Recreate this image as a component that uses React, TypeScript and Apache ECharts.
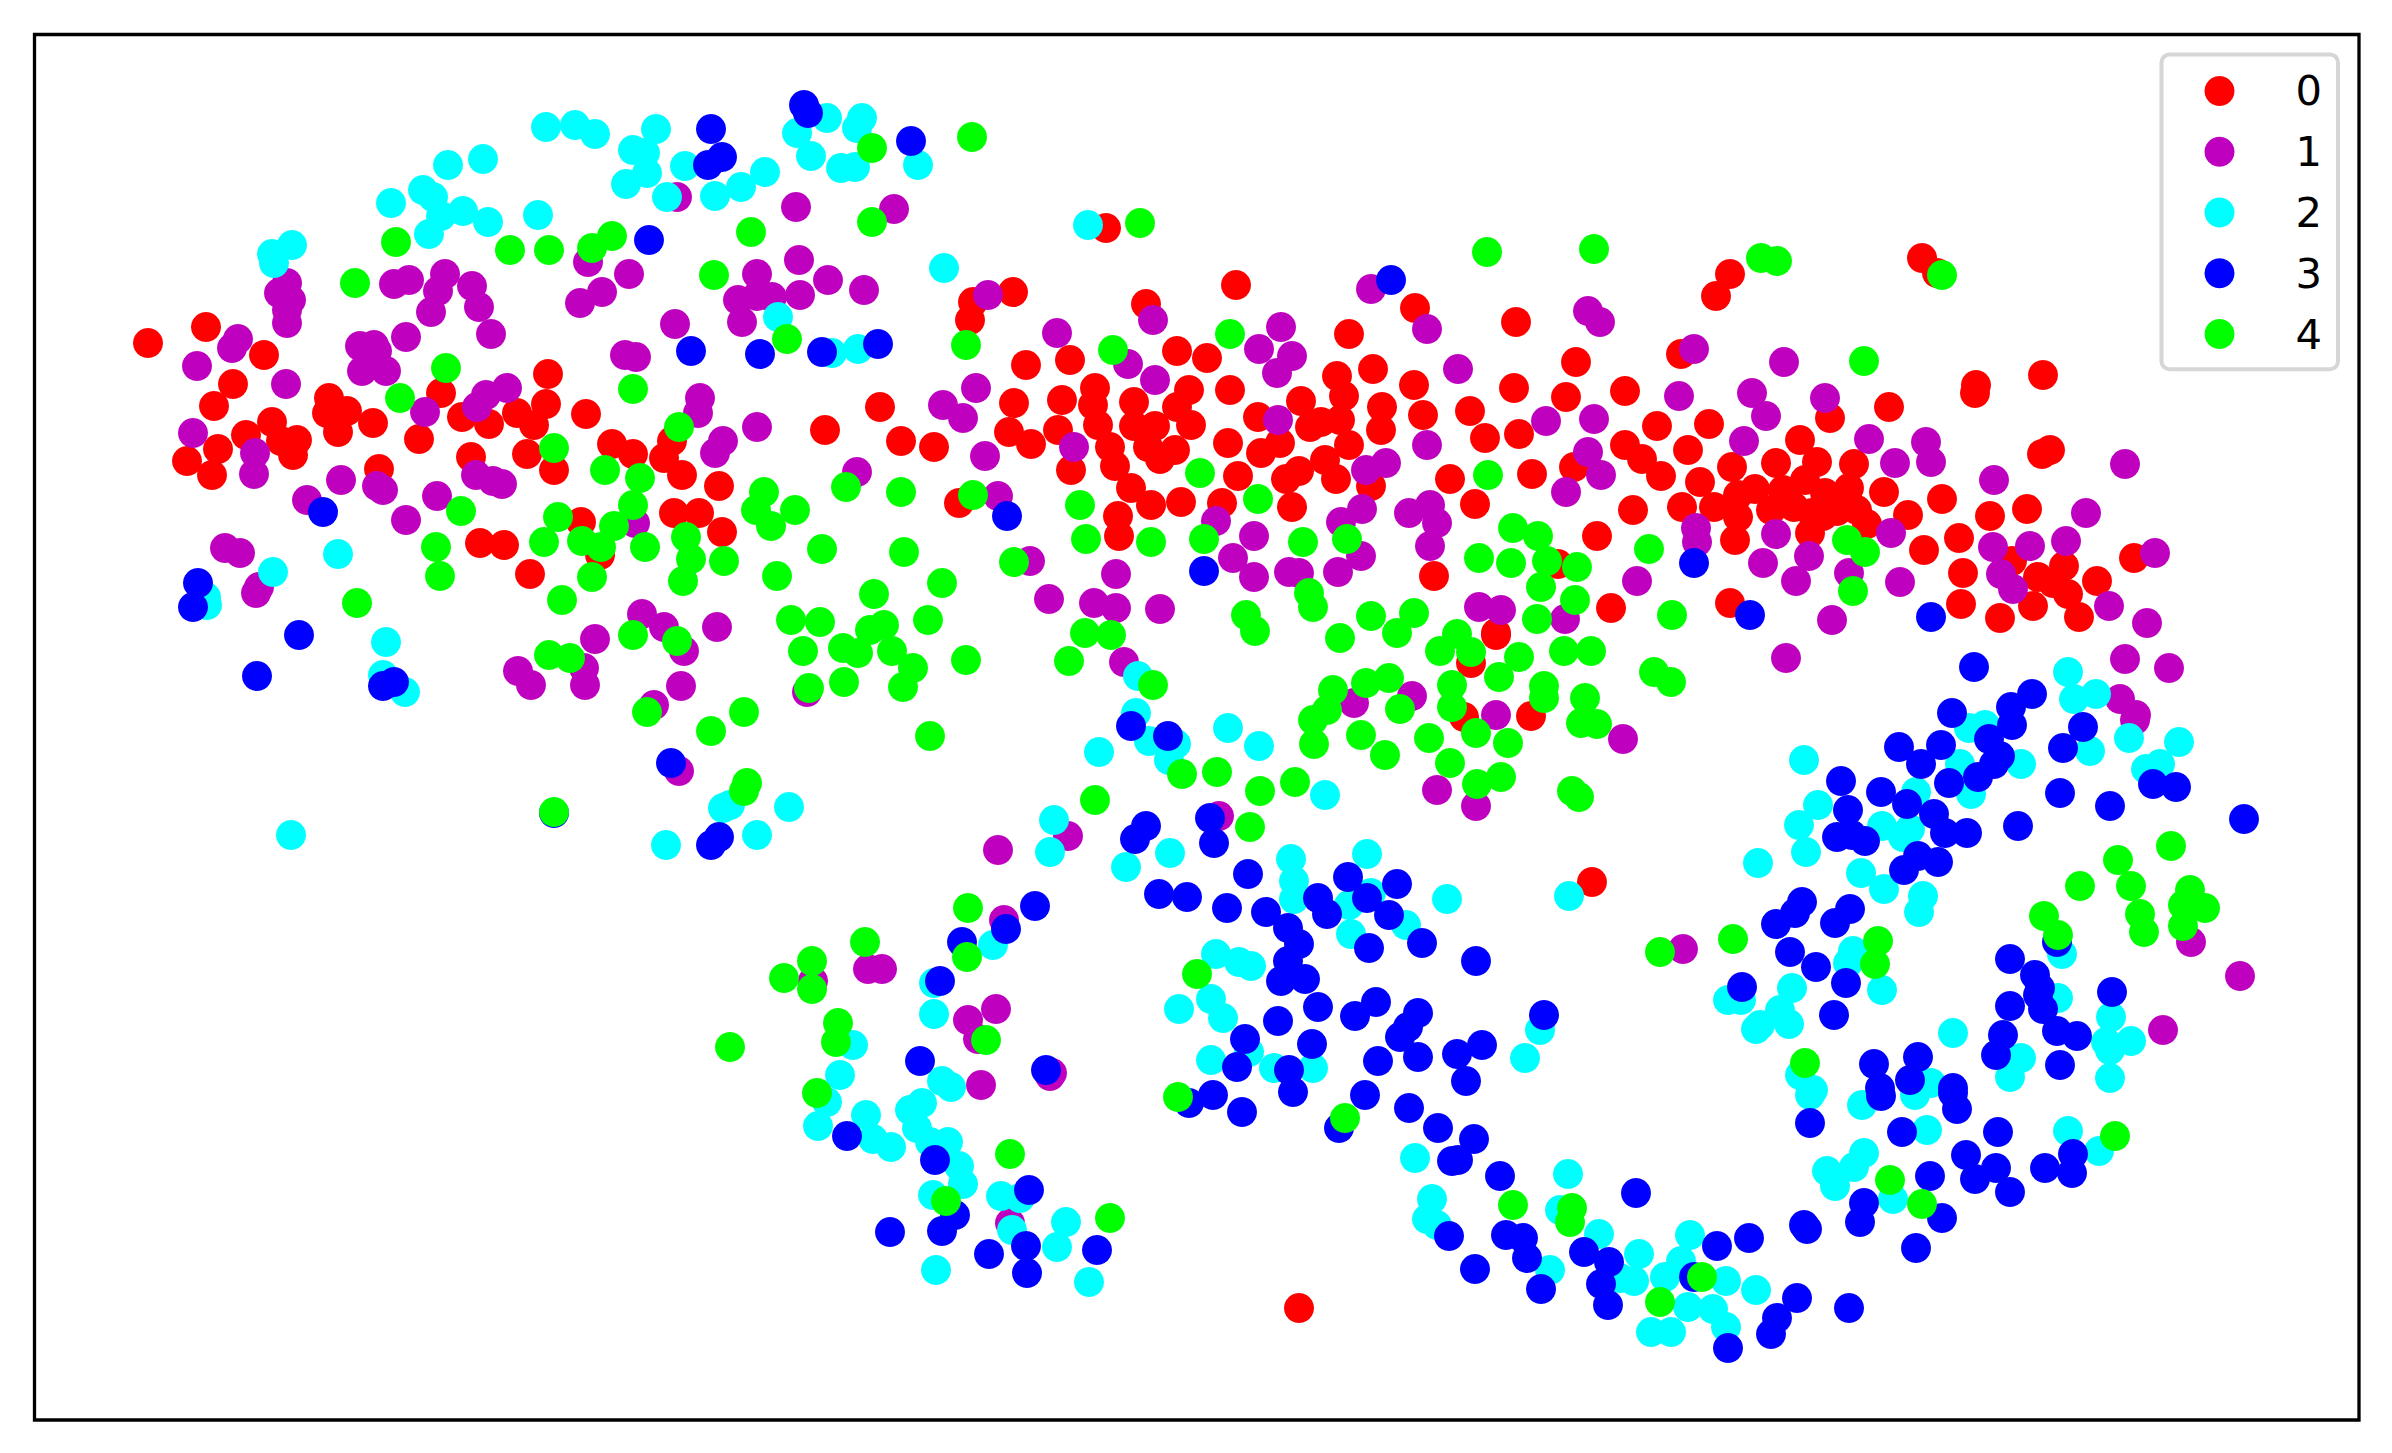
import React, { useEffect, useRef } from "react";
import * as echarts from "echarts";

const categories = ["0", "1", "2", "3", "4"];
const colors = ["#ff0000", "#bf00bf", "#00ffff", "#0000ff", "#00ff00"];

const class0: number[][] = [
[148,343],[206,327],[264,355],[233,384],[214,406],[548,374],[546,404],[441,393],[880,407],[586,414],[517,413],[534,425],[489,424],[462,417],[329,398],[347,411],[327,413],[338,432],[373,423],[272,422],[246,435],[281,441],[297,440],[293,455],[218,449],[187,461],[212,475],[419,439],[379,469],[471,457],[527,454],[554,470],[612,444],[633,454],[672,441],[664,458],[682,475],[719,486],[825,430],[901,441],[581,522],[674,513],[699,513],[722,532],[480,543],[504,545],[530,574],[600,555],
[1106,228],[1013,292],[973,302],[970,320],[1236,285],[1146,304],[1415,308],[1516,322],[1349,334],[1373,369],[1337,376],[1344,396],[1414,385],[1576,362],[1514,388],[1566,397],[1470,411],[1423,415],[1382,407],[1381,430],[1301,401],[1340,420],[1321,422],[1310,427],[1177,351],[1207,358],[1070,360],[1026,365],[1230,390],[1189,390],[1095,388],[1093,405],[1062,400],[1014,403],[1134,402],[1177,407],[1098,425],[1134,426],[1155,426],[1191,425],[1258,417],[1009,432],[1058,430],[1031,444],[934,447],[1110,447],[1148,447],[1175,450],[1228,443],[1280,443],[1261,453],[1349,445],[1325,460],[1299,471],[1286,479],[1336,479],[1238,476],[1160,459],[1115,466],[1071,470],[1371,486],[1131,488],[1450,479],[1485,438],[1519,434],[1532,474],[1574,467],[959,503],[1151,505],[1181,502],[1222,503],[1292,507],[1118,516],[1119,536],[1475,504],[1597,536],[1558,564],[1434,576],[1496,633],
[1922,258],[1937,273],[1730,274],[1716,296],[1681,354],[2043,375],[1976,385],[1975,393],[1625,391],[1889,407],[1830,418],[1657,426],[1709,424],[1625,445],[1642,459],[1661,476],[1688,450],[1800,440],[2050,450],[2042,454],[1732,467],[1776,463],[1817,462],[1854,464],[1700,482],[1755,489],[1884,492],[1942,499],[1738,495],[1783,490],[1805,480],[1825,493],[1849,488],[1633,510],[1682,507],[1714,507],[1738,517],[1771,510],[1794,507],[1812,513],[1837,511],[1857,510],[1867,524],[1908,515],[1990,516],[2027,509],[1823,516],[1735,540],[1810,533],[1959,538],[1924,550],[2012,561],[2134,558],[2064,566],[2038,577],[1963,573],[2053,583],[2068,594],[2097,581],[2033,606],[1961,604],[2000,618],[2079,617],[1730,603],[1611,608],
[1496,635],[1471,663],[1464,717],[1531,716],[1592,882],[1299,1308],
];

const class1: number[][] = [
[287,283],[279,293],[291,300],[287,310],[287,323],[238,339],[232,348],[197,366],[286,384],[394,284],[409,280],[445,274],[438,291],[472,286],[431,312],[479,307],[406,337],[491,334],[360,346],[374,345],[377,351],[362,371],[386,371],[588,262],[629,274],[602,292],[580,303],[675,324],[799,260],[757,274],[828,280],[864,290],[800,295],[738,300],[757,296],[772,297],[742,322],[796,207],[677,197],[894,209],[625,355],[636,357],[700,398],[698,413],[507,388],[486,395],[477,407],[425,412],[757,427],[723,441],[715,453],[193,433],[255,453],[254,474],[341,480],[377,486],[383,490],[307,500],[437,496],[476,475],[493,481],[502,484],[406,520],[857,472],[635,523],[225,548],[240,553],[259,587],[256,593],
[988,295],[1371,289],[1153,320],[1057,333],[1281,327],[1259,349],[1292,356],[1277,373],[1427,329],[1128,364],[1155,380],[976,388],[943,405],[963,418],[1458,369],[1278,420],[1546,421],[1594,419],[1427,445],[1588,311],[1600,322],[1074,447],[985,456],[1386,463],[1366,470],[1588,452],[1601,475],[1566,492],[998,496],[1430,505],[1409,513],[1437,523],[1430,546],[1362,509],[1341,522],[1216,521],[1254,536],[1233,558],[1254,577],[1289,572],[1299,573],[1338,572],[1361,556],[1030,561],[1116,574],[1049,599],[1094,603],[1116,608],[1160,609],[1479,607],[1501,610],[1565,619],
[1694,349],[1784,362],[1679,396],[1752,393],[1766,416],[1825,398],[1744,441],[1869,439],[1895,463],[1926,442],[1931,462],[1994,480],[2125,464],[2086,513],[2066,541],[2030,546],[1993,547],[2001,574],[2013,589],[2109,606],[2147,623],[2155,553],[1891,533],[1809,556],[1763,563],[1776,534],[1696,528],[1697,542],[1849,573],[1796,581],[1900,582],[1637,581],[1832,620],[1786,658],[2125,659],[2169,668],
[642,614],[664,627],[717,627],[595,639],[684,651],[584,668],[518,671],[531,685],[585,685],[681,686],[654,705],[807,692],[679,771],
[1124,662],[1412,696],[1354,703],[1496,715],[1623,739],[1437,790],[1476,806],[1068,836],[1219,816],[998,850],[1004,920],[996,1009],[968,1020],[978,1039],[1052,1073],
[2120,699],[2136,715],[2135,720],[1683,949],[2191,942],[2240,976],[2163,1030],
[813,981],[868,969],[882,969],[981,1085],[1050,1076],[1010,1223],
];

const class2: number[][] = [
[546,127],[575,125],[595,134],[656,129],[633,150],[645,153],[685,166],[647,173],[626,184],[667,197],[715,196],[741,187],[765,172],[827,118],[862,118],[797,133],[857,128],[811,156],[841,168],[855,167],[448,165],[483,159],[423,190],[433,197],[441,216],[463,211],[488,222],[429,234],[538,215],[391,203],[292,245],[272,254],[274,263],[778,317],[832,353],[858,349],[273,572],[338,554],[918,165],
[1088,225],[944,268],[2068,672],
[206,597],[207,605],[386,642],[383,675],[405,692],[291,835],[723,808],[730,805],[789,807],[666,845],[757,835],
[1138,676],[1136,713],[1149,741],[1176,744],[1169,760],[1099,752],[1228,728],[1259,746],[1325,795],[1054,820],[1050,852],[1126,867],[1170,853],[1291,859],[1294,881],[1294,899],[1367,854],[1371,893],[1349,905],[1406,925],[1351,934],[1447,899],[1569,896],[993,945],[1216,954],[1239,962],[1251,966],[1179,1009],[1211,999],[1223,1018],[1249,1052],[1211,1060],[1274,1068],[1313,1068],[1540,1030],[1525,1058],
[2074,699],[2096,694],[2129,738],[2179,742],[2090,751],[2146,769],[2160,764],[2021,764],[1969,728],[1985,725],[1960,764],[1916,792],[1971,794],[1804,760],[1818,805],[1799,825],[1806,852],[1758,863],[1882,826],[1910,829],[1903,837],[1861,873],[1884,889],[1923,896],[1919,912],[1853,951],[1848,963],[1882,990],[1792,988],[1728,1000],[1741,1000],[1780,1010],[1789,1024],[1760,1025],[1756,1029],[2062,954],[2058,998],[1953,1033],[2111,1017],[2106,1042],[2131,1041],[2110,1050],[2021,1058],[2010,1077],[2110,1078],[1800,1075],[1813,1090],[1931,1083],
[934,983],[934,1014],[853,1045],[840,1075],[827,1102],[818,1126],[866,1115],[873,1139],[891,1147],[942,1081],[951,1087],[922,1103],[910,1110],[917,1128],[930,1142],[948,1142],[959,1166],[963,1184],[933,1195],[1001,1196],[1020,1198],[1012,1230],[1066,1222],[1057,1247],[936,1270],[1089,1282],
[1415,1158],[1568,1174],[1432,1199],[1427,1219],[1437,1225],[1560,1210],[1599,1234],[1550,1270],[1639,1254],[1634,1281],[1620,1278],[1665,1277],[1681,1261],[1690,1235],[1726,1281],[1756,1290],[1688,1307],[1713,1309],[1726,1327],[1651,1332],[1671,1332],[1810,1095],[1862,1105],[1915,1095],[1927,1130],[1827,1171],[1835,1186],[1854,1167],[1864,1153],[1893,1199],[2068,1131],[2099,1151],
];

const class3: number[][] = [
[711,129],[722,157],[708,165],[804,105],[808,113],[911,141],[649,240],[691,351],[760,354],[822,352],[878,344],[323,512],[198,583],
[1391,280],[1007,516],[1204,571],[1694,563],[1750,615],[1931,617],[1974,667],
[193,607],[299,635],[257,676],[394,682],[383,686],[554,813],[671,763],[719,837],[711,845],
[1131,726],[1168,736],[1146,826],[1135,839],[1210,818],[1214,843],[1248,874],[1159,894],[1187,897],[1227,908],[1266,912],[1288,928],[1299,944],[1288,961],[1281,981],[1305,979],[1318,898],[1327,914],[1348,877],[1367,898],[1397,884],[1389,915],[1369,948],[1422,943],[1476,961],[1035,906],[1006,929],[962,942],[1318,1007],[1278,1021],[1355,1016],[1376,1002],[1418,1013],[1408,1027],[1400,1037],[1312,1044],[1245,1039],[1237,1067],[1289,1070],[1378,1061],[1418,1057],[1457,1054],[1482,1045],[1544,1015],[1046,1070],
[2032,694],[2011,707],[2012,725],[1952,713],[1989,739],[2083,727],[2063,748],[1899,747],[1941,745],[1921,764],[2000,756],[1994,764],[1978,777],[1949,783],[1841,781],[1881,792],[1907,804],[1848,810],[1934,814],[1945,833],[1967,833],[1837,837],[1852,835],[1865,841],[2018,826],[2060,793],[2110,806],[2153,784],[2176,787],[2244,819],[1918,856],[1938,862],[1904,870],[1802,902],[1795,913],[1776,924],[1850,909],[1835,923],[1790,952],[1816,967],[1846,983],[1742,987],[1834,1015],[2010,959],[2057,942],[2035,975],[2040,988],[2038,995],[2043,1009],[2010,1006],[2112,992],[2057,1031],[2077,1036],[2003,1035],[1996,1055],[2060,1065],[1918,1057],[1874,1064],[1910,1080],[1953,1088],[1880,1088],
[940,981],[920,1061],[847,1136],[935,1160],[1029,1190],[955,1215],[942,1231],[890,1232],[989,1254],[1026,1246],[1027,1273],[1097,1250],[1293,1092],[1189,1103],[1213,1095],[1242,1112],[1339,1128],[1365,1095],
[1466,1081],[1409,1108],[1438,1128],[1474,1139],[1458,1160],[1452,1161],[1500,1176],[1636,1193],[1449,1236],[1506,1235],[1523,1238],[1527,1258],[1475,1269],[1541,1289],[1584,1252],[1609,1262],[1601,1284],[1608,1305],[1717,1246],[1749,1238],[1694,1277],[1797,1298],[1777,1318],[1771,1334],[1728,1348],[1849,1308],[1804,1225],[1807,1229],[1860,1222],[1864,1203],[1942,1218],[1916,1248],[1930,1176],[1810,1123],[1881,1096],[1953,1093],[1957,1109],[1902,1132],[1998,1132],[1966,1155],[1996,1168],[1975,1179],[2010,1192],[2045,1168],[2073,1154],[2072,1173],
];

const class4: number[][] = [
[872,148],[872,222],[396,242],[510,250],[549,250],[592,248],[612,236],[751,232],[355,283],[714,275],[787,339],[446,368],[633,389],[400,398],[679,427],[554,448],[605,470],[640,478],[633,505],[558,517],[614,526],[764,492],[756,510],[771,526],[795,510],[846,487],[901,492],[461,511],[436,547],[440,576],[544,542],[582,541],[601,547],[645,547],[686,537],[691,559],[724,561],[683,581],[592,577],[777,576],[822,549],[904,552],[562,600],[357,603],[874,594],[972,137],
[1140,223],[1487,252],[1594,249],[966,345],[1113,350],[1230,334],[1200,473],[973,495],[1080,505],[1086,539],[1151,542],[1204,539],[1258,499],[1303,542],[1347,539],[1014,562],[942,583],[928,620],[1309,593],[1313,607],[1246,615],[1255,631],[1085,633],[1111,635],[1371,616],[1414,613],[1397,633],[1340,638],[1457,634],[1513,528],[1538,536],[1479,558],[1511,563],[1547,561],[1577,567],[1541,587],[1575,600],[1537,619],[1488,475],
[1761,258],[1777,261],[1942,275],[1864,361],[1847,540],[1865,552],[1649,549],[1853,591],[1672,615],[1654,672],[1671,682],
[791,620],[820,622],[870,630],[884,625],[803,651],[843,648],[858,653],[892,651],[913,668],[903,687],[844,682],[809,688],[966,660],[633,635],[677,641],[549,655],[570,658],[647,712],[744,712],[711,731],[930,736],[554,812],[747,783],[744,791],
[1069,661],[1440,651],[1471,652],[1519,657],[1564,651],[1591,651],[1333,690],[1366,683],[1389,678],[1452,685],[1327,710],[1400,709],[1452,707],[1499,677],[1544,686],[1544,698],[1585,698],[1581,723],[1597,724],[1313,720],[1314,744],[1361,735],[1385,755],[1429,738],[1476,733],[1508,743],[1450,763],[1501,777],[1477,784],[1572,791],[1579,797],[1153,685],[1182,774],[1217,772],[1260,791],[1295,782],[1095,800],[1250,827],[968,908],[967,957],[1197,974],[986,1040],[1660,952],
[2171,846],[2118,860],[2131,886],[2080,886],[2190,890],[2205,908],[2183,905],[2140,914],[2144,932],[2183,926],[2044,916],[2058,935],[1733,939],[1878,941],[1875,964],[1805,1063],
[865,942],[812,961],[784,978],[812,989],[838,1023],[836,1042],[817,1093],[1010,1154],[946,1201],[1110,1218],[1178,1097],[1345,1118],[730,1047],
[1513,1205],[1572,1208],[1570,1222],[1702,1277],[1660,1302],[1890,1180],[1922,1204],[2115,1136],
];

const seriesData = [class0, class1, class2, class3, class4];

export default function App() {
  const ref = useRef<HTMLDivElement>(null);
  useEffect(() => {
    document.body.style.margin = "0";
    const chart = echarts.init(ref.current!, null, { renderer: "svg" });
    chart.setOption({
      animation: false,
      backgroundColor: "#ffffff",
      grid: {
        show: true,
        left: 34.5,
        top: 34.5,
        width: 2324.5,
        height: 1385.5,
        borderColor: "#000000",
        borderWidth: 3.3,
        backgroundColor: "transparent",
      },
      xAxis: {
        type: "value",
        min: 34.5,
        max: 2359,
        axisLine: { show: false },
        axisTick: { show: false },
        axisLabel: { show: false },
        splitLine: { show: false },
      },
      yAxis: {
        type: "value",
        inverse: true,
        min: 34.5,
        max: 1420,
        axisLine: { show: false },
        axisTick: { show: false },
        axisLabel: { show: false },
        splitLine: { show: false },
      },
      legend: {
        show: true,
        orient: "vertical",
        left: 2161.5,
        top: 54.4,
        padding: [13, 16, 11.6, 43],
        itemWidth: 30,
        itemHeight: 30,
        itemGap: 13.8,
        icon: "circle",
        backgroundColor: "#ffffff",
        borderColor: "#d6d6d6",
        borderWidth: 4,
        borderRadius: 8,
        data: categories,
        textStyle: {
          fontFamily: "DejaVu Sans",
          fontSize: 41.67,
          color: "#000000",
          lineHeight: 15,
          padding: [0, 0, 32, 56],
        },
      },
      series: categories.map((name, i) => ({
        name,
        type: "scatter",
        data: seriesData[i],
        symbol: "circle",
        symbolSize: 30,
        itemStyle: { color: colors[i], opacity: 1 },
        z: 2 + i,
        emphasis: { disabled: true },
        large: false,
      })),
    });
    return () => chart.dispose();
  }, []);
  return <div ref={ref} style={{ width: 2392, height: 1453 }} />;
}
